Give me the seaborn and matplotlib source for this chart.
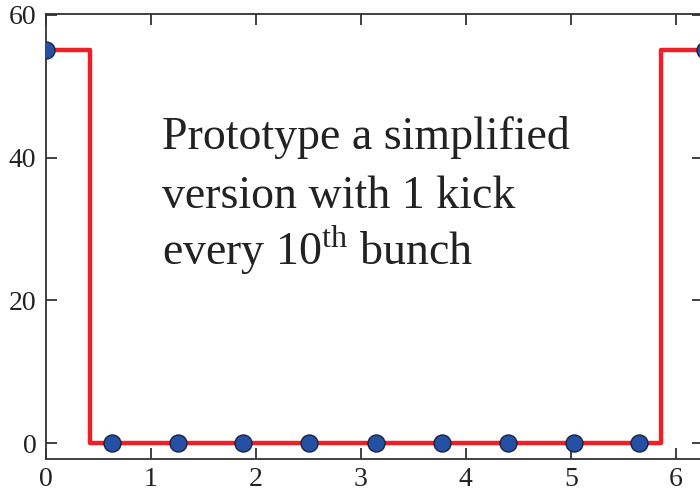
import numpy as np
import pandas as pd
import matplotlib
matplotlib.use("Agg")
import matplotlib.pyplot as plt
import seaborn as sns

# Data
step_x = [0.0, 0.42, 5.86, 6.283]
step_y = [55, 0, 55, 55]
dot_x = [0.0, 0.63, 1.26, 1.88, 2.51, 3.14, 3.77, 4.40, 5.03, 5.65, 6.28]
dot_y = [55, 0, 0, 0, 0, 0, 0, 0, 0, 0, 55]
x_ticks = [0, 1, 2, 3, 4, 5, 6]
y_ticks = [0, 20, 40, 60]

sns.set_style("ticks")
plt.rcParams['font.family'] = ['Liberation Serif', 'DejaVu Serif']
plt.rcParams['mathtext.fontset'] = 'custom'
plt.rcParams['mathtext.rm'] = 'Liberation Serif'

fig = plt.figure(figsize=(7.0, 4.92), dpi=100)
ax = fig.add_axes([46/700, (492-459)/492, (703-46)/700, (459-14)/492])

step_df = pd.DataFrame({"x": step_x, "y": step_y})
dot_df = pd.DataFrame({"x": dot_x, "y": dot_y})

sns.lineplot(data=step_df, x="x", y="y", ax=ax, color="#ee2027", lw=3.2,
             drawstyle="steps-post", sort=False, zorder=2)
sns.scatterplot(data=dot_df, x="x", y="y", ax=ax, s=150, color="#2451a3",
                edgecolor="#1b2440", linewidth=1.0, zorder=3)

ax.set_xlim(0, 6.26)
ax.set_ylim(-2.2, 60.1)
ax.set_xticks(x_ticks)
ax.set_yticks(y_ticks)
ax.set_xlabel("")
ax.set_ylabel("")
for s in ax.spines.values():
    s.set_visible(True)
    s.set_color("#333333")
    s.set_linewidth(1.3)
ax.tick_params(direction="in", length=8, width=1.3, color="#333333",
               top=True, right=True, labelsize=20, labelcolor="#222222")
ax.tick_params(axis="y", pad=7)
ax.tick_params(axis="x", pad=6)

ax.text(162/700, 1 - 149/492, "Prototype a simplified", transform=fig.transFigure,
        fontsize=33, color="#222222", va="baseline", ha="left")
ax.text(162/700, 1 - 208/492, "version with 1 kick", transform=fig.transFigure,
        fontsize=33, color="#222222", va="baseline", ha="left")
ax.text(162/700, 1 - 265/492, r"every 10$^{\mathrm{th}}$ bunch", transform=fig.transFigure,
        fontsize=33, color="#222222", va="baseline", ha="left")

fig.savefig("out.png", dpi=100)
